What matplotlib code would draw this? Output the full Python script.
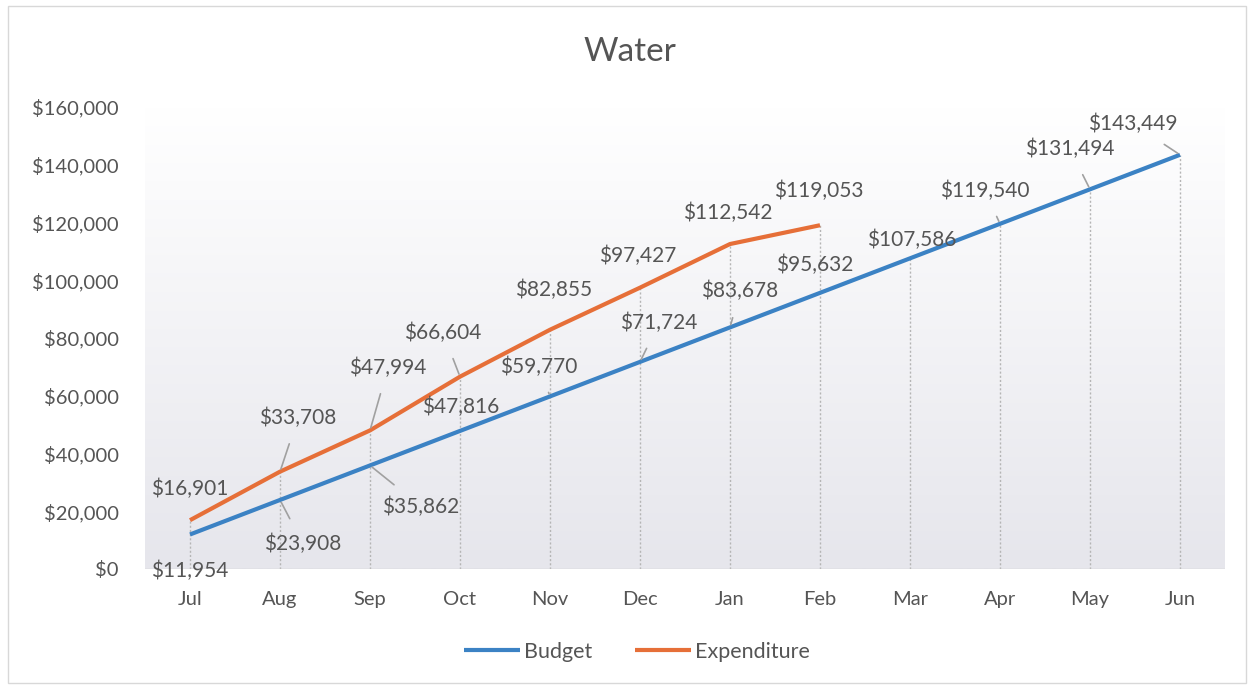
import matplotlib.pyplot as plt
import numpy as np

months = ["Jul", "Aug", "Sep", "Oct", "Nov", "Dec", "Jan", "Feb", "Mar", "Apr", "May", "Jun"]
budget = [11954, 23908, 35862, 47816, 59770, 71724, 83678, 95632, 107586, 119540, 131494, 143449]
expenditure = [16901, 33708, 47994, 66604, 82855, 97427, 112542, 119053]

# label offsets in pixels (dx, dy) relative to the point, and whether a leader line is drawn
budget_offsets = [(0, -36), (23, -44), (51, -41), (1, 24), (-11, 30), (19, 39), (10, 36), (-5, 28), (2, 18), (-15, 33), (-20, 40), (-47, 31)]
budget_leader = [False, True, True, False, True, True, True, False, False, True, True, True]
exp_offsets = [(0, 31), (18, 54), (18, 63), (-17, 44), (4, 40), (-2, 32), (-2, 31), (-1, 34)]
exp_leader = [False, True, True, True, False, False, False, False]

text_col = "#555555"
blue = "#3b82c4"
orange = "#e66f38"
plt.rcParams["font.family"] = ["Lato", "DejaVu Sans"]

fig = plt.figure(figsize=(12.54, 6.87), dpi=100)
ax = fig.add_axes([145 / 1254, 118 / 687, 1080 / 1254, 462 / 687])

# grey gradient plot area
grad = np.linspace(1, 0, 256).reshape(-1, 1)
ax.imshow(grad, extent=[0, 1, 0, 1], transform=ax.transAxes, aspect="auto",
          cmap=plt.matplotlib.colors.LinearSegmentedColormap.from_list("g", ["#e6e6ec", "#ffffff"]),
          zorder=0)

x = np.arange(len(months))
xe = np.arange(len(expenditure))

# drop lines
tops = [max(budget[i], expenditure[i]) if i < len(expenditure) else budget[i] for i in x]
ax.vlines(x, 0, tops, colors="#b5b5b5", linestyles=(0, (1.5, 1.5)), linewidth=1, zorder=1)

ax.plot(x, budget, color=blue, linewidth=3, label="Budget", zorder=3, solid_capstyle="butt")
ax.plot(xe, expenditure, color=orange, linewidth=3, label="Expenditure", zorder=3, solid_capstyle="butt")

def add_labels(vals, offsets, leaders):
    for i, v in enumerate(vals):
        dx, dy = offsets[i]
        arrow = None
        if leaders[i]:
            arrow = dict(arrowstyle="-", color="#a0a0a0", lw=1.2, shrinkA=10, shrinkB=2)
        ax.annotate(f"${v:,}", (i, v), xytext=(dx * 0.72, dy * 0.72), textcoords="offset points",
                    ha="center", va="center", fontsize=15, color=text_col, arrowprops=arrow, zorder=4)

add_labels(budget, budget_offsets, budget_leader)
add_labels(expenditure, exp_offsets, exp_leader)

ax.set_xlim(-0.5, 11.5)
ax.set_ylim(0, 160000)
ax.set_xticks(x)
ax.set_xticklabels(months)
ax.set_yticks(np.arange(0, 160001, 20000))
ax.set_yticklabels([f"${v:,}" for v in range(0, 160001, 20000)])
ax.tick_params(length=0, labelsize=14.5, labelcolor=text_col)
ax.tick_params(axis="x", pad=16)
ax.tick_params(axis="y", pad=19)
for s in ax.spines.values():
    s.set_visible(False)
ax.axhline(0, color="#d0d0d0", linewidth=1, zorder=2)

fig.text(630 / 1254, 1 - 52 / 687, "Water", ha="center", va="center", fontsize=24, color=text_col)
fig.legend(loc="center", bbox_to_anchor=(637 / 1254, 1 - 652 / 687), ncol=2, frameon=False,
           fontsize=15.5, labelcolor=text_col, handlelength=2.6, handletextpad=0.2, columnspacing=2)

# light border round the chart
fig.patches.append(plt.Rectangle((0.006, 0.006), 0.988, 0.985, transform=fig.transFigure,
                                 fill=False, edgecolor="#d8d8d8", linewidth=1))

fig.savefig("out.png", dpi=100)
